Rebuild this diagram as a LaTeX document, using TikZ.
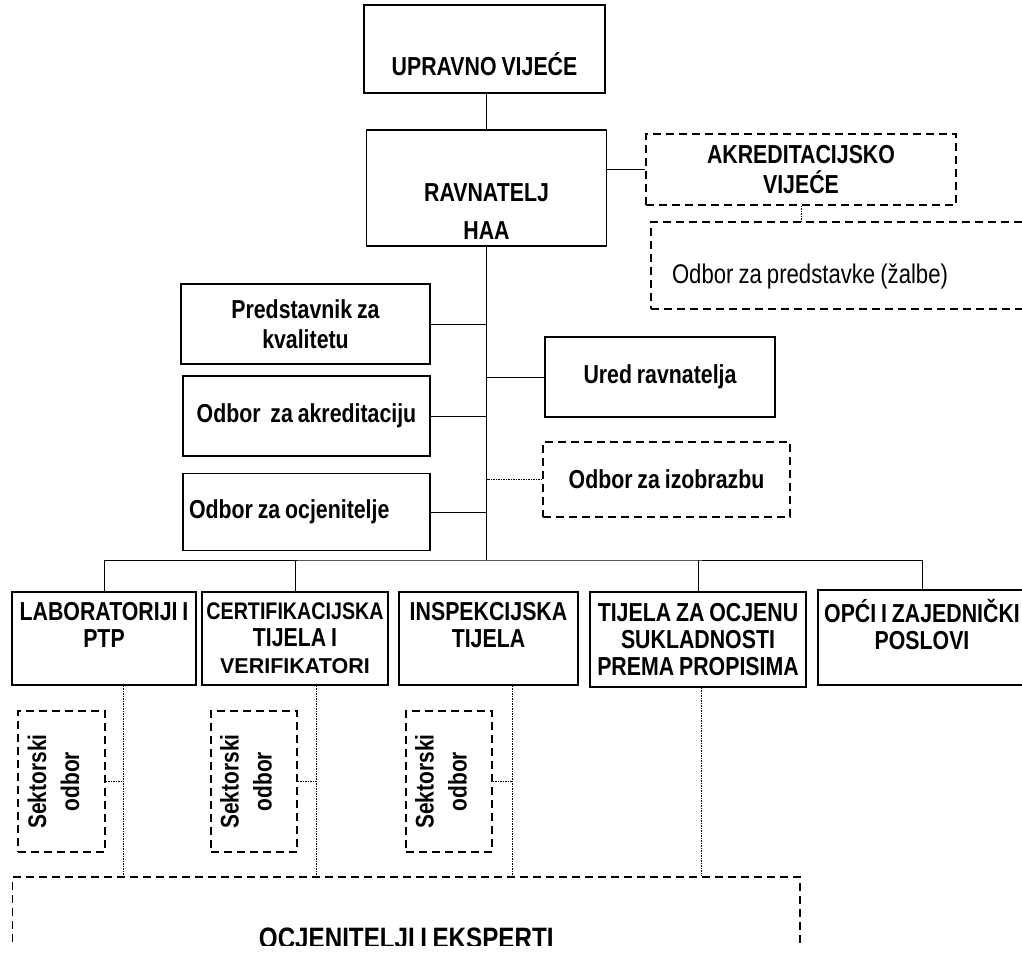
\documentclass[tikz,border=0pt]{standalone}
\usepackage{fontspec}
\usepackage{graphicx}
\newfontfamily\orgfont[FakeStretch=0.82,WordSpace=0.82]{Liberation Sans}
\newfontfamily\wideorg{Liberation Sans}
\usepackage{tikz}

\tikzset{
  unit/.style={draw, line width=1.4pt, inner sep=0pt, align=center, font={\orgfont\bfseries\fontsize{26}{30}\selectfont}},
  board/.style={unit, line width=1.3pt, dash pattern=on 8pt off 5pt},
  section/.style={unit, font={\orgfont\bfseries\fontsize{26}{27}\selectfont}},
  sector/.style={board, minimum width=87, minimum height=141, font={\orgfont\bfseries\fontsize{25.5}{33}\selectfont}},
  link/.style={line width=0.9pt},
  loose/.style={line width=0.6pt, dash pattern=on 1.5pt off 1pt},
}
\newcommand{\sektor}{\rotatebox{90}{\begin{tabular}{@{}c@{}}Sektorski\\odbor\end{tabular}}\hspace*{11pt}}

\begin{document}
\begin{tikzpicture}[x=1pt,y=1pt,yscale=-1,xscale=1]
        \useasboundingbox (0,0) rectangle (1022,953);
        \clip (0,0) rectangle (1022,953);

        \node[unit, minimum width=241, minimum height=88] (uv) at (484.5,49) {\strut\\UPRAVNO VIJEĆE};
        \node[unit, minimum width=240, minimum height=116, font={\orgfont\bfseries\fontsize{26}{38}\selectfont}] (rav) at (486.5,188) {\strut\\RAVNATELJ\\HAA};
        \node[board, minimum width=310, minimum height=71] (akr) at (801,169.5) {AKREDITACIJSKO\\VIJEĆE};
        \node[board, minimum width=389, minimum height=87, text width=347, inner xsep=21, align=flush left, font={\orgfont\fontsize{27}{30}\selectfont}] (zal) at (845.5,265.5) {\rule{0pt}{42pt}Odbor za predstavke (žalbe)};

        \node[unit, minimum width=249, minimum height=80] (pk) at (305.5,324) {Predstavnik za\\kvalitetu};
        \node[unit, minimum width=247, minimum height=80] (oa) at (306.5,416) {Odbor\ \ za akreditaciju};
        \node[unit, minimum width=247, minimum height=77, text width=235, inner xsep=6, align=flush left] (oo) at (306.5,512) {Odbor za ocjenitelje};
        \node[unit, minimum width=230, minimum height=80] (ur) at (660,377) {Ured ravnatelja};
        \node[board, minimum width=247, minimum height=75] (oi) at (666.5,479.5) {Odbor za izobrazbu};

        \node[section, minimum width=184, minimum height=93] (lab) at (104,638.5) {LABORATORIJI I\\PTP\\\mbox{}};
        \node[section, minimum width=186, minimum height=93] (cert) at (295,638.5) {{\fontsize{24}{27}\selectfont CERTIFIKACIJSKA}\\TIJELA I\\{\wideorg\bfseries\fontsize{21.5}{27}\selectfont VERIFIKATORI}};
        \node[section, minimum width=179, minimum height=93] (insp) at (488.5,638.5) {INSPEKCIJSKA\\TIJELA\\\mbox{}};
        \node[section, minimum width=216, minimum height=95] (tij) at (698,639.5) {TIJELA ZA OCJENU\\SUKLADNOSTI\\PREMA PROPISIMA};
        \node[section, minimum width=208, minimum height=95] (opc) at (922,637.5) {OPĆI I ZAJEDNIČKI\\POSLOVI\\\mbox{}};

        \node[sector] (s1) at (61.5,781.5) {\sektor};
        \node[sector, minimum width=86] (s2) at (254,781.5) {\sektor};
        \node[sector, minimum width=86] (s3) at (449,781.5) {\sektor};

        \begin{scope}
        \clip (0,0) rectangle (1022,945);
        \node[board, minimum width=787.5, minimum height=123, font={\orgfont\bfseries\fontsize{29.5}{32}\selectfont}] (ocj) at (406.25,938.5) {OCJENITELJI I EKSPERTI};
        \end{scope}

        \coordinate (bus) at (486.5,560);
        \coordinate (d1) at (123,781.5);
        \coordinate (d2) at (316,781.5);
        \coordinate (d3) at (512,781.5);
        \coordinate (d4) at (701,781.5);

        \draw[link] (rav.north) -- (rav.north |- uv.south);
        \draw[link] (akr.west) -- (akr.west -| rav.east);
        \draw[loose] (akr.south) -- (akr.south |- zal.north);
        \draw[link] (rav.south) -- (bus);
        \draw[link] (pk.east) -- (pk.east -| bus);
        \draw[link] (oa.east) -- (oa.east -| bus);
        \draw[link] (oo.east) -- (oo.east -| bus);
        \draw[link] (ur.west) -- (ur.west -| bus);
        \draw[loose] (oi.west) -- (oi.west -| bus);
        \draw[link] (lab.north) |- (bus) -| (opc.north);
        \draw[link] (cert.north) -- (cert.north |- bus);
        \draw[link] (tij.north) -- (tij.north |- bus);

        \draw[loose] (lab.south -| d1) -- (ocj.north -| d1);
        \draw[loose] (cert.south -| d2) -- (ocj.north -| d2);
        \draw[loose] (insp.south -| d3) -- (ocj.north -| d3);
        \draw[loose] (tij.south -| d4) -- (ocj.north -| d4);
        \draw[loose] (s1.east) -- (d1);
        \draw[loose] (s2.east) -- (d2);
        \draw[loose] (s3.east) -- (d3);

\end{tikzpicture}
\end{document}
